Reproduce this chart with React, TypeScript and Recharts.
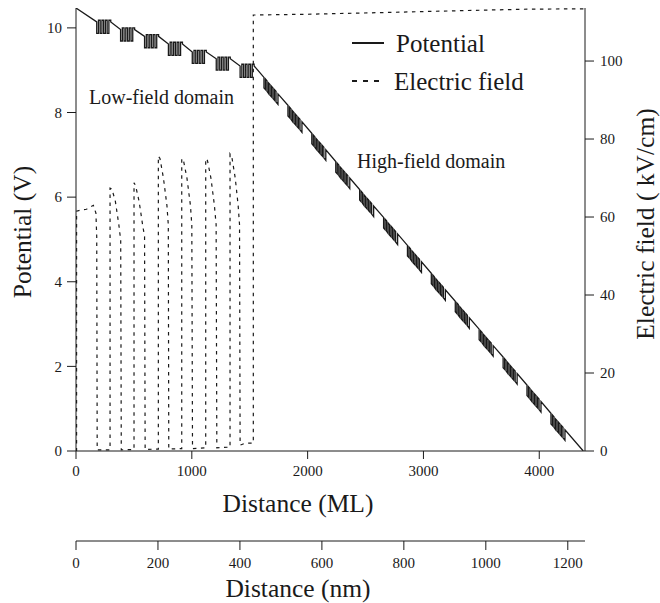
import { LineChart, Line, XAxis, YAxis, Legend, Customized } from 'recharts';

const FONT = '"Liberation Serif", "Times New Roman", serif';
const INK = '#1a1a1a';

// Distance (ML) vs potential (V), low-field domain: slopes + superlattice blocks
const potentialLowField: [number, number][] = [
  [0, 10.47],
  [179, 10.14], [179, 9.87], [194, 9.87], [194, 10.18], [209, 10.18], [209, 9.87], [224, 9.87], [224, 10.18], [239, 10.18], [239, 9.87], [254, 9.87], [254, 10.18], [269, 10.18], [269, 9.87], [284, 9.87], [284, 10.18], [300, 10.18], [300, 10.14],
  [385, 9.96], [385, 9.69], [400, 9.69], [400, 10.0], [415, 10.0], [415, 9.69], [430, 9.69], [430, 10.0], [445, 10.0], [445, 9.69], [460, 9.69], [460, 10.0], [475, 10.0], [475, 9.69], [490, 9.69], [490, 10.0], [506, 10.0], [506, 9.96],
  [592, 9.8], [592, 9.53], [607, 9.53], [607, 9.84], [622, 9.84], [622, 9.53], [637, 9.53], [637, 9.84], [652, 9.84], [652, 9.53], [667, 9.53], [667, 9.84], [682, 9.84], [682, 9.53], [697, 9.53], [697, 9.84], [713, 9.84], [713, 9.8],
  [798, 9.62], [798, 9.35], [813, 9.35], [813, 9.66], [828, 9.66], [828, 9.35], [843, 9.35], [843, 9.66], [858, 9.66], [858, 9.35], [873, 9.35], [873, 9.66], [888, 9.66], [888, 9.35], [903, 9.35], [903, 9.66], [919, 9.66], [919, 9.62],
  [1004, 9.43], [1004, 9.16], [1019, 9.16], [1019, 9.47], [1034, 9.47], [1034, 9.16], [1049, 9.16], [1049, 9.47], [1064, 9.47], [1064, 9.16], [1079, 9.16], [1079, 9.47], [1094, 9.47], [1094, 9.16], [1109, 9.16], [1109, 9.47], [1125, 9.47], [1125, 9.43],
  [1211, 9.27], [1211, 9.0], [1226, 9.0], [1226, 9.31], [1241, 9.31], [1241, 9.0], [1256, 9.0], [1256, 9.31], [1271, 9.31], [1271, 9.0], [1286, 9.0], [1286, 9.31], [1301, 9.31], [1301, 9.0], [1316, 9.0], [1316, 9.31], [1332, 9.31], [1332, 9.27],
  [1417, 9.1], [1417, 8.83], [1432, 8.83], [1432, 9.14], [1447, 9.14], [1447, 8.83], [1462, 8.83], [1462, 9.14], [1477, 9.14], [1477, 8.83], [1492, 8.83], [1492, 9.14], [1507, 9.14], [1507, 8.83], [1522, 8.83], [1522, 9.14], [1538, 9.14], [1538, 9.1],
];

// high-field domain: steady slope, blocks of dense vertical strokes
const potentialHighField: [number, number][] = [
  [1623, 8.83], [1623, 8.58], [1636, 8.54], [1636, 8.79], [1649, 8.75], [1649, 8.5], [1662, 8.45], [1662, 8.7], [1675, 8.66], [1675, 8.41], [1688, 8.37], [1688, 8.62], [1701, 8.58], [1701, 8.33], [1714, 8.29], [1714, 8.54], [1727, 8.5], [1727, 8.25], [1744, 8.19], [1744, 8.44],
  [1830, 8.17], [1830, 7.92], [1843, 7.88], [1843, 8.13], [1856, 8.09], [1856, 7.84], [1869, 7.79], [1869, 8.04], [1882, 8.0], [1882, 7.75], [1895, 7.71], [1895, 7.96], [1908, 7.92], [1908, 7.67], [1921, 7.63], [1921, 7.88], [1934, 7.84], [1934, 7.59], [1951, 7.53], [1951, 7.78],
  [2036, 7.51], [2036, 7.26], [2049, 7.22], [2049, 7.47], [2062, 7.43], [2062, 7.18], [2075, 7.13], [2075, 7.38], [2088, 7.34], [2088, 7.09], [2101, 7.05], [2101, 7.3], [2114, 7.26], [2114, 7.01], [2127, 6.97], [2127, 7.22], [2140, 7.18], [2140, 6.93], [2157, 6.87], [2157, 7.12],
  [2243, 6.84], [2243, 6.59], [2256, 6.55], [2256, 6.8], [2269, 6.76], [2269, 6.51], [2282, 6.46], [2282, 6.71], [2295, 6.67], [2295, 6.42], [2308, 6.38], [2308, 6.63], [2321, 6.59], [2321, 6.34], [2334, 6.3], [2334, 6.55], [2347, 6.51], [2347, 6.26], [2364, 6.2], [2364, 6.45],
  [2449, 6.18], [2449, 5.93], [2462, 5.89], [2462, 6.14], [2475, 6.1], [2475, 5.85], [2488, 5.8], [2488, 6.05], [2501, 6.01], [2501, 5.76], [2514, 5.72], [2514, 5.97], [2527, 5.93], [2527, 5.68], [2540, 5.64], [2540, 5.89], [2553, 5.85], [2553, 5.6], [2570, 5.54], [2570, 5.79],
  [2656, 5.52], [2656, 5.27], [2669, 5.23], [2669, 5.48], [2682, 5.44], [2682, 5.19], [2695, 5.14], [2695, 5.39], [2708, 5.35], [2708, 5.1], [2721, 5.06], [2721, 5.31], [2734, 5.27], [2734, 5.02], [2747, 4.98], [2747, 5.23], [2760, 5.19], [2760, 4.94], [2777, 4.88], [2777, 5.13],
  [2862, 4.86], [2862, 4.61], [2875, 4.57], [2875, 4.82], [2888, 4.78], [2888, 4.53], [2901, 4.48], [2901, 4.73], [2914, 4.69], [2914, 4.44], [2927, 4.4], [2927, 4.65], [2940, 4.61], [2940, 4.36], [2953, 4.32], [2953, 4.57], [2966, 4.53], [2966, 4.28], [2983, 4.22], [2983, 4.47],
  [3068, 4.2], [3068, 3.95], [3081, 3.91], [3081, 4.16], [3094, 4.12], [3094, 3.87], [3107, 3.82], [3107, 4.07], [3120, 4.03], [3120, 3.78], [3133, 3.74], [3133, 3.99], [3146, 3.95], [3146, 3.7], [3159, 3.66], [3159, 3.91], [3172, 3.87], [3172, 3.62], [3189, 3.56], [3189, 3.81],
  [3275, 3.54], [3275, 3.29], [3288, 3.25], [3288, 3.5], [3301, 3.46], [3301, 3.21], [3314, 3.16], [3314, 3.41], [3327, 3.37], [3327, 3.12], [3340, 3.08], [3340, 3.33], [3353, 3.29], [3353, 3.04], [3366, 3.0], [3366, 3.25], [3379, 3.21], [3379, 2.96], [3396, 2.9], [3396, 3.15],
  [3481, 2.88], [3481, 2.63], [3494, 2.59], [3494, 2.84], [3507, 2.8], [3507, 2.55], [3520, 2.5], [3520, 2.75], [3533, 2.71], [3533, 2.46], [3546, 2.42], [3546, 2.67], [3559, 2.63], [3559, 2.38], [3572, 2.34], [3572, 2.59], [3585, 2.55], [3585, 2.3], [3602, 2.24], [3602, 2.49],
  [3688, 2.22], [3688, 1.97], [3701, 1.93], [3701, 2.18], [3714, 2.14], [3714, 1.89], [3727, 1.84], [3727, 2.09], [3740, 2.05], [3740, 1.8], [3753, 1.76], [3753, 2.01], [3766, 1.97], [3766, 1.72], [3779, 1.68], [3779, 1.93], [3792, 1.89], [3792, 1.64], [3809, 1.58], [3809, 1.83],
  [3894, 1.56], [3894, 1.31], [3907, 1.27], [3907, 1.52], [3920, 1.48], [3920, 1.23], [3933, 1.18], [3933, 1.43], [3946, 1.39], [3946, 1.14], [3959, 1.1], [3959, 1.35], [3972, 1.31], [3972, 1.06], [3985, 1.02], [3985, 1.27], [3998, 1.23], [3998, 0.98], [4015, 0.92], [4015, 1.17],
  [4101, 0.89], [4101, 0.64], [4114, 0.6], [4114, 0.85], [4127, 0.81], [4127, 0.56], [4140, 0.51], [4140, 0.76], [4153, 0.72], [4153, 0.47], [4166, 0.43], [4166, 0.68], [4179, 0.64], [4179, 0.39], [4192, 0.35], [4192, 0.6], [4205, 0.56], [4205, 0.31], [4222, 0.25], [4222, 0.5],
  [4380, 0],
];

// electric field (kV/cm), low-field domain
const fieldLowField: [number, number][] = [
  [0, 0], [5, 0], [5, 61.5], [40, 61.8], [90, 62.0], [150, 63.0], [172, 61], [179, 55], [183, 0.3],
  [294, 0.3], [294, 67.4], [310, 67.2], [340, 64], [370, 58], [386, 54], [391, 0.3],
  [501, 0.4], [501, 68.8], [515, 68], [545, 64], [575, 58], [592, 55], [597, 0.4],
  [711, 0.5], [711, 75.6], [725, 75], [755, 70], [785, 63], [797, 58], [801, 0.5],
  [913, 0.6], [913, 75], [928, 74.5], [958, 70], [988, 63], [1000, 58], [1006, 0.6],
  [1120, 0.8], [1120, 75], [1135, 74.5], [1165, 70], [1195, 63], [1210, 58], [1216, 0.8],
  [1330, 1.0], [1330, 76.2], [1345, 75.5], [1375, 70], [1400, 63], [1412, 58], [1417, 1.5],
  [1460, 2.0], [1531, 2.0],
];

// electric field, high-field domain
const fieldHighField: [number, number][] = [
  [1531, 111.8], [2000, 112.0], [2600, 112.4], [3300, 112.9], [3900, 113.3], [4395, 113.4],
];

const mlTicks = [0, 1000, 2000, 3000, 4000];
const nmTicks = [0, 200, 400, 600, 800, 1000, 1200];
const potentialTicks = [0, 2, 4, 6, 8, 10];
const fieldTicks = [0, 20, 40, 60, 80, 100];

const potentialData = [...potentialLowField, ...potentialHighField].map(([x, v]) => ({ x, v }));
const fieldData = [...fieldLowField, ...fieldHighField].map(([x, v]) => ({ x, v }));

const tickStyle = { fill: INK, fontSize: 15, fontFamily: FONT };

function LegendBox() {
  const row = { display: 'flex', alignItems: 'center', height: 38 } as const;
  return (
    <div style={{ fontFamily: FONT, fontSize: 25, color: INK, lineHeight: 1 }}>
      <div style={row}>
        <svg width={44} height={10}>
          <line x1={0} y1={5} x2={32} y2={5} stroke={INK} strokeWidth={2} />
        </svg>
        <span>Potential</span>
      </div>
      <div style={row}>
        <svg width={42} height={10}>
          <line x1={0} y1={5} x2={28} y2={5} stroke={INK} strokeWidth={2} strokeDasharray="5 6" />
        </svg>
        <span>Electric field</span>
      </div>
    </div>
  );
}

function Annotations() {
  return (
    <g fontFamily={FONT} fill={INK}>
      <text x={89} y={104} fontSize={20}>Low-field domain</text>
      <text x={357} y={168} fontSize={20}>High-field domain</text>
      <text x={22} y={232} fontSize={25.5} textAnchor="middle" dominantBaseline="central" transform="rotate(-90, 22, 232)">
        Potential (V)
      </text>
      <text x={645} y={224} fontSize={25.5} textAnchor="middle" dominantBaseline="central" transform="rotate(-90, 645, 224)">
        Electric field ( kV/cm)
      </text>
      <text x={298} y={512} fontSize={25.5} textAnchor="middle">Distance (ML)</text>
      <text x={298} y={597} fontSize={25.5} textAnchor="middle">Distance (nm)</text>
    </g>
  );
}

export default function App() {
  return (
    <div style={{ position: 'absolute', left: 0, top: 0, width: 660, height: 603, background: '#fff' }}>
      <LineChart width={660} height={603} margin={{ top: 8, right: 0, bottom: 0, left: 0 }}>
        <XAxis
          xAxisId="ml"
          dataKey="x"
          type="number"
          domain={[0, 4395]}
          ticks={mlTicks}
          allowDataOverflow
          height={90}
          tickSize={8}
          tickMargin={6}
          stroke={INK}
          tick={tickStyle}
        />
        <XAxis
          xAxisId="nm"
          dataKey="x"
          type="number"
          domain={[0, 1242]}
          ticks={nmTicks}
          allowDataOverflow
          height={62}
          tickSize={9}
          tickMargin={7}
          stroke={INK}
          tick={tickStyle}
        />
        <YAxis
          yAxisId="v"
          type="number"
          domain={[0, 10.47]}
          ticks={potentialTicks}
          allowDataOverflow
          width={76}
          tickSize={9}
          tickMargin={5}
          stroke={INK}
          tick={tickStyle}
        />
        <YAxis
          yAxisId="f"
          orientation="right"
          type="number"
          domain={[0, 113.6]}
          ticks={fieldTicks}
          allowDataOverflow
          width={75}
          tickSize={9}
          tickMargin={6}
          stroke={INK}
          tick={tickStyle}
        />
        <Line
          xAxisId="ml"
          yAxisId="f"
          data={fieldData}
          dataKey="v"
          name="Electric field"
          type="linear"
          stroke={INK}
          strokeWidth={1.2}
          strokeDasharray="3.5 4.5"
          dot={false}
          isAnimationActive={false}
        />
        <Line
          xAxisId="ml"
          yAxisId="v"
          data={potentialData}
          dataKey="v"
          name="Potential"
          type="linear"
          stroke={INK}
          strokeWidth={1.3}
          dot={false}
          isAnimationActive={false}
        />
        <Legend
          layout="vertical"
          verticalAlign="middle"
          align="center"
          wrapperStyle={{ top: 24, left: 352, width: 200 }}
          content={() => <LegendBox />}
        />
        <Customized component={Annotations} />
      </LineChart>
    </div>
  );
}
